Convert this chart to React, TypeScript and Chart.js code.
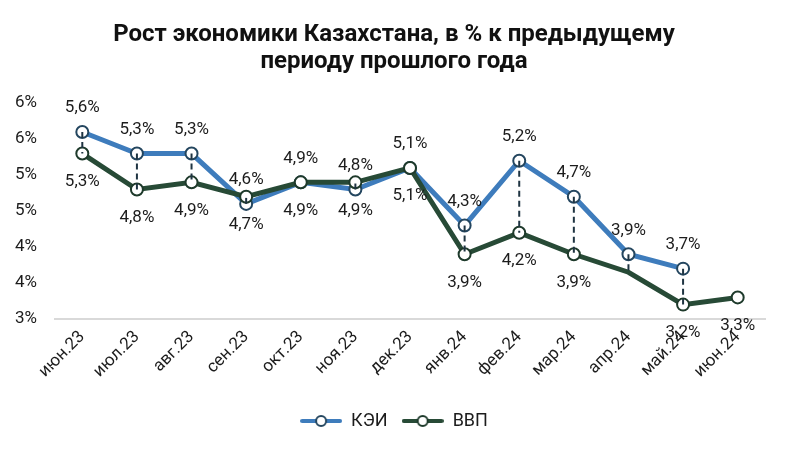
import React, { useEffect, useRef } from "react";
import { Chart, registerables } from "chart.js";

Chart.register(...registerables);

const categories = ["июн.23", "июл.23", "авг.23", "сен.23", "окт.23", "ноя.23", "дек.23", "янв.24", "фев.24", "мар.24", "апр.24", "май.24", "июн.24"];
const keiValues: (number | null)[] = [5.6, 5.3, 5.3, 4.6, 4.9, 4.8, 5.1, 4.3, 5.2, 4.7, 3.9, 3.7, null];
const gdpValues: (number | null)[] = [5.3, 4.8, 4.9, 4.7, 4.9, 4.9, 5.1, 3.9, 4.2, 3.9, 3.65, 3.2, 3.3];
const gdpMarked: boolean[] = [true, true, true, true, true, true, true, true, true, true, false, true, true];
const titleLines = ["Рост экономики Казахстана, в % к предыдущему", "периоду прошлого года"];
const seriesNames = ["КЭИ", "ВВП"];

const BLUE = "#3e7cbc";
const GREEN = "#274a36";
const FONT = "Roboto, 'DejaVu Sans', sans-serif";

function legendIcon(color: string, border: string) {
  const c = document.createElement("canvas");
  c.width = 42;
  c.height = 14;
  const ctx = c.getContext("2d")!;
  ctx.strokeStyle = color;
  ctx.lineWidth = 4;
  ctx.lineCap = "round";
  ctx.beginPath();
  ctx.moveTo(2, 7);
  ctx.lineTo(40, 7);
  ctx.stroke();
  ctx.beginPath();
  ctx.arc(21, 7, 5, 0, Math.PI * 2);
  ctx.fillStyle = "#fff";
  ctx.fill();
  ctx.lineWidth = 2;
  ctx.strokeStyle = border;
  ctx.stroke();
  return c;
}

const fmt = (v: number) => v.toFixed(1).replace(".", ",") + "%";

export default function App() {
  const ref = useRef<HTMLCanvasElement>(null);
  useEffect(() => {
    document.body.style.margin = "0";
    const icons = [legendIcon(BLUE, "#24465f"), legendIcon(GREEN, "#1e3a2b")];

    const dropLines = {
      id: "dropLines",
      afterDatasetsDraw(chart: any) {
        const ctx = chart.ctx;
        const m0 = chart.getDatasetMeta(0);
        const m1 = chart.getDatasetMeta(1);
        ctx.save();
        ctx.strokeStyle = "#1f3442";
        ctx.lineWidth = 2;
        ctx.setLineDash([6, 4]);
        categories.forEach((_, i) => {
          const a = keiValues[i];
          const b = gdpValues[i];
          if (a == null || b == null || a === b) return;
          const p0 = m0.data[i];
          const p1 = m1.data[i];
          ctx.beginPath();
          ctx.moveTo(p0.x, p0.y);
          ctx.lineTo(p1.x, p1.y);
          ctx.stroke();
        });
        ctx.restore();
      },
    };

    const valueLabels = {
      id: "valueLabels",
      afterDraw(chart: any) {
        const ctx = chart.ctx;
        ctx.save();
        ctx.font = `17px ${FONT}`;
        ctx.fillStyle = "#1c1c1c";
        ctx.textAlign = "center";
        ctx.textBaseline = "middle";
        const m0 = chart.getDatasetMeta(0);
        const m1 = chart.getDatasetMeta(1);
        keiValues.forEach((v, i) => {
          if (v == null) return;
          const p = m0.data[i];
          ctx.fillText(fmt(v), p.x, p.y - 24);
        });
        gdpValues.forEach((v, i) => {
          if (v == null || !gdpMarked[i]) return;
          const p = m1.data[i];
          ctx.fillText(fmt(v), p.x, p.y + 28);
        });
        ctx.restore();
      },
    };

    const chart = new Chart(ref.current!, {
      type: "line",
      data: {
        labels: categories,
        datasets: [
          {
            label: seriesNames[0],
            data: keiValues,
            borderColor: BLUE,
            borderWidth: 5,
            pointRadius: 6,
            pointBackgroundColor: "#fff",
            pointBorderColor: "#24465f",
            pointBorderWidth: 2,
            order: 1,
            tension: 0,
          },
          {
            label: seriesNames[1],
            data: gdpValues,
            borderColor: GREEN,
            borderWidth: 5,
            pointRadius: gdpMarked.map((m) => (m ? 6 : 0)),
            pointBackgroundColor: "#fff",
            pointBorderColor: "#1e3a2b",
            pointBorderWidth: 2,
            order: 0,
            tension: 0,
          },
        ],
      },
      options: {
        responsive: false,
        animation: false,
        layout: { padding: { left: 0, right: 0, top: 0, bottom: 9 } },
        plugins: {
          tooltip: { enabled: false },
          title: {
            display: true,
            text: titleLines,
            color: "#111",
            font: { family: FONT, size: 24, weight: "bold", lineHeight: 1.15 },
            padding: { top: 21, bottom: 27 },
          },
          legend: {
            position: "bottom",
            labels: {
              usePointStyle: true,
              pointStyleWidth: 42,
              boxHeight: 14,
              padding: 14,
              color: "#1c1c1c",
              font: { family: FONT, size: 18 },
              generateLabels(chart: any) {
                return chart.data.datasets.map((ds: any, i: number) => ({
                  text: ds.label,
                  datasetIndex: i,
                  pointStyle: icons[i],
                  fillStyle: "transparent",
                  strokeStyle: "transparent",
                  lineWidth: 0,
                  hidden: false,
                  fontColor: "#1c1c1c",
                }));
              },
            },
          },
        },
        scales: {
          x: {
            offset: true,
            grid: { display: false, drawTicks: false },
            border: { display: true, color: "#d9d9d9", width: 2 },
            ticks: {
              color: "#1c1c1c",
              font: { family: FONT, size: 17 },
              minRotation: 45,
              maxRotation: 45,
              padding: 8,
              autoSkip: false,
            },
            afterFit(scale: any) {
              scale.height = 79;
            },
          },
          y: {
            min: 3,
            max: 6,
            grid: { display: false, drawTicks: false },
            border: { display: false },
            ticks: {
              stepSize: 0.5,
              color: "#1c1c1c",
              font: { family: FONT, size: 17 },
              padding: 18,
              callback: (v: any) => Math.round(Number(v)) + "%",
            },
            afterFit(scale: any) {
              scale.width = 55;
            },
          },
          yRight: {
            position: "right",
            min: 3,
            max: 6,
            grid: { display: false, drawTicks: false },
            border: { display: false },
            ticks: { display: false },
            afterFit(scale: any) {
              scale.width = 23;
            },
          },
        },
      },
      plugins: [dropLines, valueLabels],
    });
    return () => chart.destroy();
  }, []);
  return (
    <div style={{ width: 788, height: 449, background: "#fff" }}>
      <canvas ref={ref} width={788} height={449} />
    </div>
  );
}
